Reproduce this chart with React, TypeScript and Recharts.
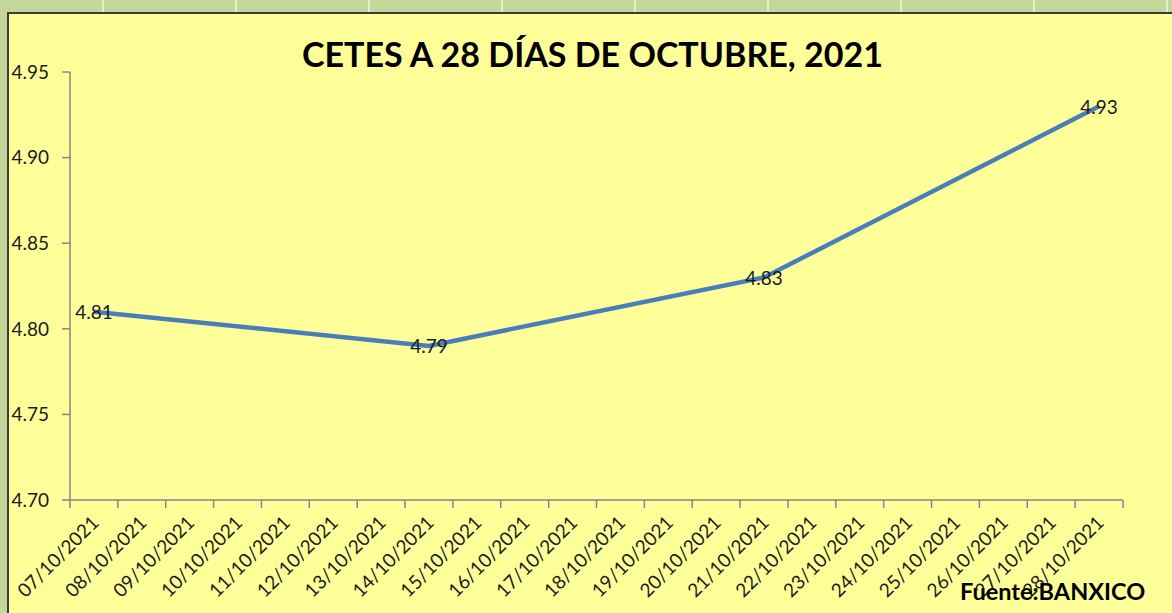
import React from 'react';
import { LineChart, Line, XAxis, YAxis, LabelList } from 'recharts';

const fechas = [
  '07/10/2021', '08/10/2021', '09/10/2021', '10/10/2021', '11/10/2021', '12/10/2021',
  '13/10/2021', '14/10/2021', '15/10/2021', '16/10/2021', '17/10/2021', '18/10/2021',
  '19/10/2021', '20/10/2021', '21/10/2021', '22/10/2021', '23/10/2021', '24/10/2021',
  '25/10/2021', '26/10/2021', '27/10/2021', '28/10/2021',
];
// solo hay subasta los jueves
const tasas: (number | null)[] = [
  4.81, null, null, null, null, null, null,
  4.79, null, null, null, null, null, null,
  4.83, null, null, null, null, null, null,
  4.93,
];
const yTicks = [4.7, 4.75, 4.8, 4.85, 4.9, 4.95];

const data = fechas.map((fecha, i) => ({ fecha, tasa: tasas[i] }));

const FONT = 'Lato, "Open Sans", sans-serif';
const AXIS = '#868686';

const DateTick = (props: any) => {
  const { x, y, payload, index, visibleTicksCount } = props;
  const half = payload && payload.offset ? payload.offset : 23.93;
  const last = index === visibleTicksCount - 1;
  const tx = x + 6;
  const ty = y + 24;
  return (
    <g>
      <line x1={x - half} x2={x - half} y1={y} y2={y + 8} stroke={AXIS} strokeWidth={1.5} />
      {last && <line x1={x + half} x2={x + half} y1={y} y2={y + 8} stroke={AXIS} strokeWidth={1.5} />}
      <text
        x={tx}
        y={ty}
        textAnchor="end"
        transform={`rotate(-45, ${tx}, ${ty})`}
        fontFamily={FONT}
        fontSize={19}
        fill="#1a1a1a"
      >
        {payload.value}
      </text>
    </g>
  );
};

const RateLabel = (props: any) => {
  const { x, y, value } = props;
  if (value == null) return null;
  return (
    <text x={x} y={y} textAnchor="middle" dominantBaseline="central" fontFamily={FONT} fontSize={19} fill="#1a1a1a">
      {Number(value).toFixed(2)}
    </text>
  );
};

export default function App() {
  return (
    <div
      style={{
        position: 'absolute',
        left: 0,
        top: 0,
        width: 1172,
        height: 613,
        overflow: 'hidden',
        background: '#c4d79b',
        backgroundImage:
          'repeating-linear-gradient(90deg, transparent 0 102px, #e6eed2 102px 104px, transparent 104px 133px)',
      }}
    >
      <div
        style={{
          position: 'absolute',
          left: 7,
          top: 12,
          width: 1172,
          height: 613,
          background: '#ffff99',
          borderLeft: '2px solid #3a3a3a',
          borderTop: '2px solid #3a3a3a',
        }}
      />
      <div
        style={{
          position: 'absolute',
          left: 0,
          width: 1185,
          top: 33,
          textAlign: 'center',
          fontFamily: FONT,
          fontWeight: 700,
          fontSize: 34,
          color: '#000',
        }}
      >
        CETES A 28 DÍAS DE OCTUBRE, 2021
      </div>
      <div style={{ position: 'absolute', left: 0, top: 0 }}>
        <LineChart width={1172} height={613} data={data} margin={{ top: 72, right: 49, bottom: 0, left: 0 }}>
          <XAxis
            dataKey="fecha"
            scale="band"
            interval={0}
            height={113}
            tickLine={false}
            tickSize={0}
            tickMargin={0}
            axisLine={{ stroke: AXIS, strokeWidth: 1.5 }}
            tick={<DateTick />}
          />
          <YAxis
            domain={[4.7, 4.95]}
            ticks={yTicks}
            width={70}
            tickSize={8}
            tickMargin={13}
            tickFormatter={(v: number) => v.toFixed(2)}
            axisLine={{ stroke: AXIS, strokeWidth: 1.5 }}
            tickLine={{ stroke: AXIS, strokeWidth: 1.5 }}
            tick={{ fontFamily: FONT, fontSize: 19, fill: '#1a1a1a' }}
          />
          <Line
            dataKey="tasa"
            stroke="#4a7ebb"
            strokeWidth={4.5}
            dot={false}
            connectNulls
            isAnimationActive={false}
          >
            <LabelList dataKey="tasa" content={<RateLabel />} />
          </Line>
        </LineChart>
      </div>
      <div
        style={{
          position: 'absolute',
          left: 960,
          top: 577,
          fontFamily: FONT,
          fontWeight: 700,
          fontSize: 23.5,
          color: '#000',
        }}
      >
        Fuente:BANXICO
      </div>
    </div>
  );
}
